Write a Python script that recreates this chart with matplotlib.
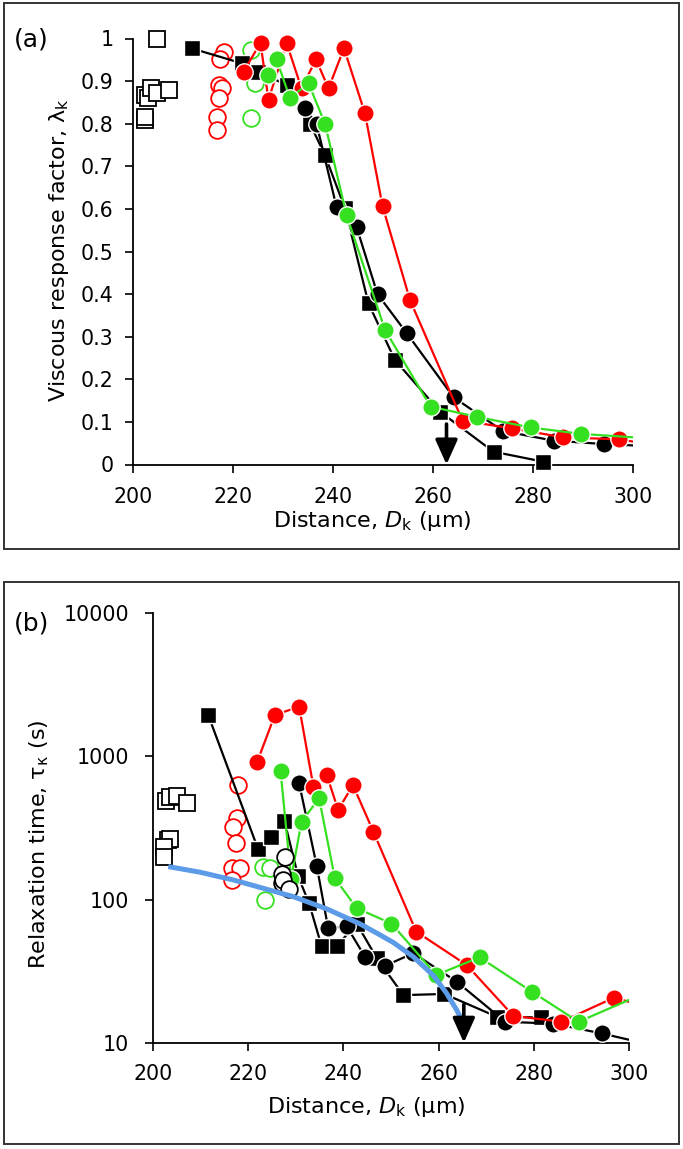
import numpy as np
import matplotlib
matplotlib.use("Agg")
import matplotlib.pyplot as plt
from matplotlib.patches import Rectangle
from matplotlib.ticker import FixedLocator, NullLocator

plt.rcParams['font.family'] = ['DejaVu Sans']
plt.rcParams['mathtext.fontset'] = 'dejavusans'

RED = '#FF0000'
GREEN = '#35E021'
BLUE = '#5B9BE8'

# ---------------- Panel (a) data: viscous response factor ----------------
a_sq_open_x = [204.7, 202.4, 203.0, 203.6, 204.7, 207.2, 202.4, 202.4]
a_sq_open_y = [1.000, 0.867, 0.860, 0.883, 0.871, 0.879, 0.809, 0.816]

a_sq_x = [211.7, 221.7, 225.0, 230.7, 235.4, 238.4, 242.4, 247.1, 252.4, 261.4, 272.1, 281.9]
a_sq_y = [0.977, 0.942, 0.922, 0.891, 0.800, 0.726, 0.601, 0.378, 0.245, 0.124, 0.030, 0.007]

a_ci_x = [234.4, 236.7, 240.7, 244.7, 248.9, 254.7, 264.1, 273.9, 284.1, 294.2, 305.0]
a_ci_y = [0.836, 0.800, 0.605, 0.558, 0.400, 0.309, 0.158, 0.079, 0.056, 0.048, 0.042]

a_red_x = [222.1, 225.5, 227.1, 230.7, 233.7, 236.6, 239.1, 242.2, 246.4, 249.9, 255.4,
           265.9, 275.7, 285.9, 297.1, 305.0]
a_red_y = [0.922, 0.990, 0.856, 0.990, 0.883, 0.951, 0.883, 0.977, 0.824, 0.607, 0.386,
           0.103, 0.085, 0.064, 0.059, 0.045]

a_grn_x = [226.9, 228.7, 231.4, 235.1, 238.4, 242.7, 250.4, 259.5, 268.7, 279.5, 289.5, 305.0]
a_grn_y = [0.914, 0.951, 0.860, 0.895, 0.800, 0.586, 0.316, 0.136, 0.112, 0.087, 0.072, 0.060]

a_red_open_x = [218.1, 217.4, 217.1, 217.7, 217.1, 216.7, 216.7]
a_red_open_y = [0.969, 0.953, 0.890, 0.883, 0.860, 0.816, 0.785]

a_grn_open_x = [223.6, 224.4, 223.6]
a_grn_open_y = [0.973, 0.895, 0.813]

a_arrow_x = 262.7
a_arrow_top = 0.095

a_yticks = [0, 0.1, 0.2, 0.3, 0.4, 0.5, 0.6, 0.7, 0.8, 0.9, 1.0]
a_yticklabels = ['0', '0.1', '0.2', '0.3', '0.4', '0.5', '0.6', '0.7', '0.8', '0.9', '1']
xticks = [200, 220, 240, 260, 280, 300]

# ---------------- Panel (b) data: relaxation time ----------------
b_sq_open_x = [202.7, 203.6, 205.0, 207.1, 203.2, 203.6, 202.3, 202.3]
b_sq_open_y = [490, 524, 530, 475, 261, 264, 234, 197]

b_sq_x = [211.6, 222.1, 224.7, 227.6, 230.5, 232.8, 235.4, 238.6, 242.8, 247.0,
          252.6, 261.2, 272.2, 281.6]
b_sq_y = [1946, 224, 275, 356, 145, 94, 47.4, 47.4, 68, 39, 21.5, 21.9, 15.2, 15.0]

b_ci_x = [230.7, 234.4, 236.8, 240.7, 244.5, 248.7, 254.7, 263.8, 274.0, 284.1, 294.3, 305.0]
b_ci_y = [649, 172, 63, 65, 40, 34.4, 42.2, 26.7, 14.0, 13.6, 11.6, 9.6]

b_red_x = [221.9, 225.6, 230.7, 233.7, 236.5, 238.9, 242.0, 246.3, 255.3, 265.9,
           275.7, 285.8, 296.8, 305.0]
b_red_y = [918, 1946, 2229, 615, 742, 423, 631, 298, 59.7, 34.9,
           15.4, 14.0, 20.6, 17.5]

b_grn_x = [226.8, 229.0, 231.2, 234.9, 238.2, 242.8, 250.1, 259.5, 268.6, 279.6, 289.4, 305.0]
b_grn_y = [791, 140, 350, 510, 141, 87, 68, 29.7, 39.5, 22.7, 14.0, 23.5]

b_red_open_x = [217.9, 217.6, 216.9, 217.4, 216.5, 218.3, 216.5]
b_red_open_y = [631, 370, 323, 249, 165, 165, 137]

b_grn_open_x = [223.2, 224.6, 223.5]
b_grn_open_y = [170, 165, 100]

b_blk_open_x = [227.7, 227.2, 227.0, 227.3, 228.6]
b_blk_open_y = [197, 150, 130, 138, 118]

b_fit_x = [203.2, 210.0, 216.9, 222.5, 229.5, 236.5, 243.5, 247.7, 250.5, 254.7,
           258.9, 261.7, 263.8, 264.9]
b_fit_y = [170, 155, 137, 121.6, 104.7, 86.1, 67.6, 56.6, 50.1, 39.8,
           29.5, 22.1, 16.9, 14.4]

b_arrow_x = 265.3
b_arrow_top = 18.5

b_yticks = [10, 100, 1000, 10000]
b_yticklabels = ['10', '100', '1000', '10000']

# ---------------- Figure ----------------
W, H = 683, 1149
fig = plt.figure(figsize=(W / 100, H / 100), dpi=100)

def frac_axes(l, t, r, b):
    return fig.add_axes([l / W, 1 - b / H, (r - l) / W, (b - t) / H])

axa = frac_axes(133, 38.5, 633, 464.5)
axb = frac_axes(153, 613.3, 629, 1042.7)

TICK_FS = 14.8
LAB_FS = 16

def style(ax, xpad, ypad):
    for s in ['top', 'right']:
        ax.spines[s].set_visible(False)
    for s in ['left', 'bottom']:
        ax.spines[s].set_linewidth(1.3)
        ax.spines[s].set_color('black')
    ax.tick_params(direction='out', length=5.5, width=1.2, labelsize=TICK_FS)
    ax.tick_params(axis='x', pad=xpad)
    ax.tick_params(axis='y', pad=ypad)
    ax.set_xlim(200, 300)
    ax.set_xticks(xticks)
    ax.set_xticklabels([str(v) for v in xticks])

XMAX = 300

def series(ax, x, y, color, marker, ms, z):
    ax.plot(x, y, '-', color=color, lw=1.6, zorder=z)
    xs = np.asarray(x)
    ys = np.asarray(y)
    m = xs <= XMAX
    ax.plot(xs[m], ys[m], ls='none', marker=marker, ms=ms, mfc=color, mec='white',
            mew=1.0, zorder=z + 0.5, clip_on=False)

def open_pts(ax, x, y, color, marker, ms, z=3):
    ax.plot(x, y, ls='none', marker=marker, ms=ms, mfc='white', mec=color, mew=1.3,
            zorder=z, clip_on=False)

def draw_series(ax, sqx, sqy, cix, ciy, rx, ry, gx, gy):
    series(ax, sqx, sqy, 'k', 's', 11, 3)
    series(ax, cix, ciy, 'k', 'o', 12.5, 4)
    series(ax, rx, ry, RED, 'o', 12.5, 5)
    series(ax, gx, gy, GREEN, 'o', 12.5, 6)

def arrow(ax, x, top, bottom):
    ax.annotate('', xy=(x, bottom), xytext=(x, top),
                arrowprops=dict(arrowstyle='-|>,head_width=0.45,head_length=1.0',
                                lw=2.6, color='k', shrinkA=0, shrinkB=0, mutation_scale=15),
                zorder=10, annotation_clip=False)

# Panel (a)
style(axa, xpad=10.5, ypad=8.5)
axa.set_ylim(0, 1)
axa.yaxis.set_major_locator(FixedLocator(a_yticks))
axa.set_yticklabels(a_yticklabels)
open_pts(axa, a_sq_open_x, a_sq_open_y, 'k', 's', 11)
open_pts(axa, a_red_open_x, a_red_open_y, RED, 'o', 12)
open_pts(axa, a_grn_open_x, a_grn_open_y, GREEN, 'o', 12)
draw_series(axa, a_sq_x, a_sq_y, a_ci_x, a_ci_y, a_red_x, a_red_y, a_grn_x, a_grn_y)
arrow(axa, a_arrow_x, a_arrow_top, 0)
axa.set_ylabel('Viscous response factor, λ$_\\mathrm{k}$', fontsize=LAB_FS)
axa.set_xlabel('Distance, $\\mathit{D}_\\mathrm{k}$ (μm)', fontsize=LAB_FS)
axa.yaxis.set_label_coords(-0.124, 0.503)
axa.xaxis.set_label_coords(0.478, -0.105)

# Panel (b)
style(axb, xpad=10, ypad=11.5)
axb.set_yscale('log')
axb.set_ylim(10, 10000)
axb.yaxis.set_major_locator(FixedLocator(b_yticks))
axb.yaxis.set_minor_locator(NullLocator())
axb.set_yticklabels(b_yticklabels)
open_pts(axb, b_sq_open_x, b_sq_open_y, 'k', 's', 11)
open_pts(axb, b_red_open_x, b_red_open_y, RED, 'o', 12)
open_pts(axb, b_grn_open_x, b_grn_open_y, GREEN, 'o', 12)
draw_series(axb, b_sq_x, b_sq_y, b_ci_x, b_ci_y, b_red_x, b_red_y, b_grn_x, b_grn_y)
open_pts(axb, b_blk_open_x, b_blk_open_y, 'k', 'o', 12, z=7)
axb.plot(b_fit_x, b_fit_y, '-', color=BLUE, lw=3.6, solid_capstyle='butt',
         solid_joinstyle='round', zorder=8)
arrow(axb, b_arrow_x, b_arrow_top, 10)
axb.set_ylabel('Relaxation time, τ$_\\mathrm{κ}$ (s)', fontsize=LAB_FS)
axb.set_xlabel('Distance, $\\mathit{D}_\\mathrm{k}$ (μm)', fontsize=LAB_FS)
axb.yaxis.set_label_coords(-0.214, 0.463)
axb.xaxis.set_label_coords(0.449, -0.122)

# Panel frames and letters
fig.add_artist(Rectangle((4 / W, 1 - 549 / H), 675 / W, 546 / H, transform=fig.transFigure,
                         fill=False, lw=1.4, edgecolor='#333333'))
fig.add_artist(Rectangle((4 / W, 1 - 1144 / H), 675 / W, 562 / H, transform=fig.transFigure,
                         fill=False, lw=1.4, edgecolor='#333333'))
fig.text(14 / W, 1 - 40 / H, '(a)', fontsize=18, va='center', ha='left')
fig.text(14 / W, 1 - 623 / H, '(b)', fontsize=18, va='center', ha='left')

fig.savefig('out.png', dpi=100)
